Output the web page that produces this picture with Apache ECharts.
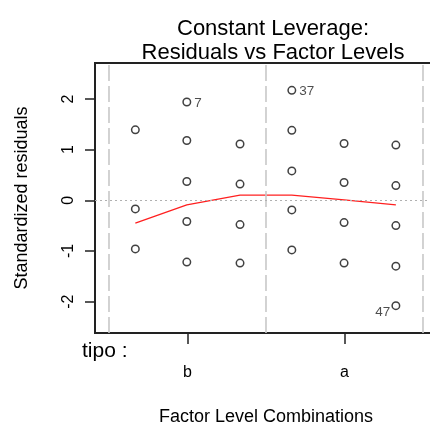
<!DOCTYPE html>
<html>
<head>
<meta charset="utf-8">
<script src="https://cdn.jsdelivr.net/npm/echarts@6/dist/echarts.min.js"></script>
<style>
html,body{margin:0;padding:0;background:#fff;}
#chart{width:430px;height:426px;}
</style>
</head>
<body>
<div id="chart"></div>
<script>
// ---- data ----
const levels = ['b', 'a'];                 // factor levels (tick labels)
const levelTicks = [0.5, 1.5];             // tick positions of levels
const levelBounds = [0, 1, 2];             // dashed separators
const yTicks = [-2, -1, 0, 1, 2];
const columnX = [0.168, 0.496, 0.835, 1.165, 1.498, 1.828];
const columnResiduals = [
  [1.39, -0.17, -0.96],
  [1.94, 1.18, 0.37, -0.42, -1.22],
  [1.11, 0.32, -0.48, -1.24],
  [2.17, 1.38, 0.58, -0.19, -0.98],
  [1.12, 0.35, -0.44, -1.24],
  [1.09, 0.29, -0.50, -1.30, -2.08]
];
const smoothY = [-0.45, -0.09, 0.10, 0.10, 0.01, -0.09];
const idLabels = ['7', '37', '47'];
const idPoints = [[1, 1.94], [3, 2.17], [5, -2.08]]; // [column index, residual]
const idSide = ['right', 'right', 'left'];

// ---- build ----
const FONT = '"Liberation Sans", Arial, sans-serif';
const pts = [];
columnResiduals.forEach((col, ci) => {
  col.forEach(v => {
    const item = { value: [columnX[ci], v] };
    idPoints.forEach((p, k) => {
      if (p[0] === ci && p[1] === v) {
        item.label = {
          show: true, formatter: idLabels[k], position: idSide[k],
          distance: idSide[k] === 'left' ? 1 : 3,
          offset: idSide[k] === 'left' ? [0, 7] : [0, 1],
          fontSize: 13.5, color: '#222', fontFamily: FONT
        };
      }
    });
    pts.push(item);
  });
});
const smoothData = columnX.map((x, i) => [x, smoothY[i]]);

const chart = echarts.init(document.getElementById('chart'), null, { renderer: 'canvas' });
chart.setOption({
  animation: false,
  backgroundColor: '#fff',
  title: {
    text: 'Constant Leverage:\nResiduals vs Factor Levels',
    left: 268, top: 12, textAlign: 'center',
    textStyle: { fontFamily: FONT, fontSize: 22, fontWeight: 'normal', color: '#000', lineHeight: 24 }
  },
  grid: {
    left: 95, top: 63, width: 342, height: 270,
    show: true, borderColor: '#222', borderWidth: 2, backgroundColor: 'transparent',
    containLabel: false, outerBoundsMode: 'none'
  },
  xAxis: {
    type: 'value', min: -0.089, max: 2.09,
    axisLine: { show: false, onZero: false },
    splitLine: { show: false },
    axisTick: { show: true, length: 11, customValues: levelTicks, lineStyle: { color: '#222', width: 1.5 } },
    axisLabel: {
      show: true, customValues: levelTicks, margin: 32,
      formatter: v => levels[levelTicks.indexOf(v)] || '',
      fontFamily: FONT, fontSize: 16, color: '#000'
    },
    name: 'Factor Level Combinations', nameLocation: 'middle', nameGap: 75,
    nameTextStyle: { fontFamily: FONT, fontSize: 18, color: '#000' }
  },
  yAxis: {
    type: 'value', min: -2.62, max: 2.71,
    axisLine: { show: false, onZero: false },
    splitLine: { show: false },
    axisTick: { show: true, length: 10, customValues: yTicks, lineStyle: { color: '#222', width: 1.5 } },
    axisLabel: {
      show: true, customValues: yTicks, rotate: 90, margin: 18,
      fontFamily: FONT, fontSize: 16, color: '#000'
    },
    name: 'Standardized residuals', nameLocation: 'middle', nameGap: 64, nameRotate: 90,
    nameTextStyle: { fontFamily: FONT, fontSize: 18, color: '#000' }
  },
  graphic: [{
    type: 'text', left: 82, top: 341,
    style: { text: 'tipo :', fontFamily: FONT, fontSize: 21, fill: '#000' }
  }],
  series: [
    {
      type: 'line', data: [], silent: true,
      markLine: {
        silent: true, symbol: ['none', 'none'], label: { show: false },
        data: levelBounds.map(b => ({ xAxis: b, lineStyle: { color: '#c8c8c8', width: 1.6, type: [16, 5] } }))
          .concat([{ yAxis: 0, lineStyle: { color: '#b0b0b0', width: 1.2, type: [2, 3] } }])
      }
    },
    {
      type: 'line', data: smoothData, showSymbol: false, symbol: 'none', silent: true,
      lineStyle: { color: '#ff2020', width: 1.3 }, z: 3
    },
    {
      type: 'scatter', data: pts, symbol: 'circle', symbolSize: 7.5, z: 4,
      itemStyle: { color: '#fff', borderColor: '#111', borderWidth: 1.5 }
    }
  ]
});
</script>
</body>
</html>
